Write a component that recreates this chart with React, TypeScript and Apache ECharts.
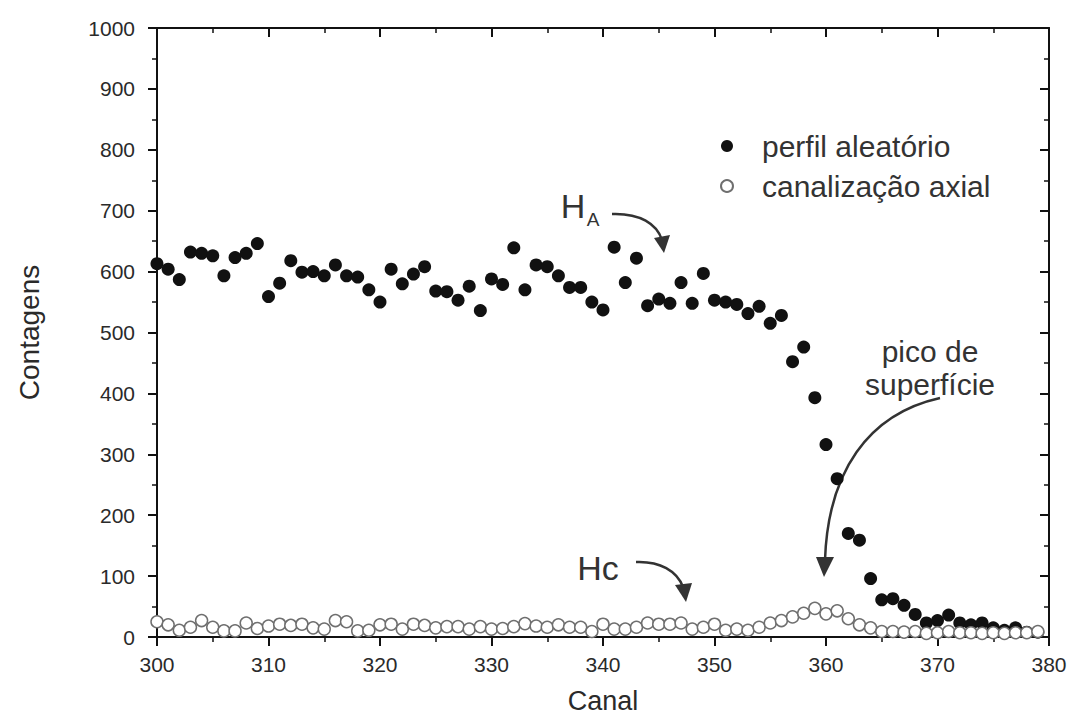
import React, { useEffect, useRef } from "react";
import * as echarts from "echarts";

const channels = [
  300, 301, 302, 303, 304, 305, 306, 307, 308, 309,
  310, 311, 312, 313, 314, 315, 316, 317, 318, 319,
  320, 321, 322, 323, 324, 325, 326, 327, 328, 329,
  330, 331, 332, 333, 334, 335, 336, 337, 338, 339,
  340, 341, 342, 343, 344, 345, 346, 347, 348, 349,
  350, 351, 352, 353, 354, 355, 356, 357, 358, 359,
  360, 361, 362, 363, 364, 365, 366, 367, 368, 369,
  370, 371, 372, 373, 374, 375, 376, 377, 378, 379,
];

const perfilAleatorio = [
  613, 604, 587, 632, 630, 626, 593, 623, 630, 646,
  559, 581, 618, 599, 600, 593, 611, 593, 591, 570,
  550, 604, 580, 596, 608, 568, 567, 553, 576, 536,
  588, 579, 639, 570, 611, 608, 593, 574, 574, 550,
  537, 640, 582, 622, 544, 555, 548, 582, 548, 597,
  553, 550, 546, 531, 543, 515, 528, 452, 476, 393,
  316, 260, 170, 159, 96, 61, 63, 52, 37, 23,
  27, 36, 23, 20, 23, 15, 11, 15, 8, 8,
];

const canalizacaoAxial = [
  25, 20, 11, 16, 27, 16, 10, 10, 23, 14,
  18, 21, 19, 21, 15, 13, 27, 25, 10, 11,
  20, 21, 13, 21, 19, 15, 17, 17, 13, 17,
  13, 14, 17, 22, 18, 16, 20, 16, 16, 9,
  21, 13, 13, 16, 23, 21, 21, 23, 13, 16,
  21, 11, 13, 11, 16, 23, 27, 33, 39, 47,
  38, 43, 30, 20, 15, 9, 9, 8, 9, 6,
  7, 9, 7, 7, 6, 7, 6, 7, 7, 9,
];

const seriesNames = ["perfil aleatório", "canalização axial"];
const xTicks = { min: 300, max: 380, interval: 10 };
const yTicks = { min: 0, max: 1000, interval: 100 };

const FONT = "'Liberation Sans', Arial, Helvetica, sans-serif";
const TXT = "#2a2a2a";

export default function App() {
  const ref = useRef<HTMLDivElement>(null);

  useEffect(() => {
    if (!ref.current) return;
    const chart = echarts.init(ref.current, undefined, { renderer: "svg" });

    const axisLine = { show: true, onZero: false, lineStyle: { color: "#111", width: 2 } };
    const tickStyle = { color: "#111", width: 2 };
    const minorTick = { show: true, splitNumber: 2, length: 5, lineStyle: { color: "#111", width: 1.5 } };

    const baseX = {
      type: "value" as const,
      min: xTicks.min,
      max: xTicks.max,
      interval: xTicks.interval,
      splitLine: { show: false },
      axisLine,
      minorTick,
    };
    const baseY = {
      type: "value" as const,
      min: yTicks.min,
      max: yTicks.max,
      interval: yTicks.interval,
      splitLine: { show: false },
      axisLine,
      minorTick,
    };

    const arrowStyle = { stroke: "#333", lineWidth: 2.5, fill: null };
    const headStyle = { fill: "#333" };
    const txt = (text: string, x: number, y: number, size: number) => ({
      type: "text",
      x,
      y,
      style: {
        text,
        font: `${size}px ${FONT}`,
        fill: "#333",
        textAlign: "center",
        textVerticalAlign: "middle",
        align: "center",
        verticalAlign: "middle",
      },
    });

    chart.setOption({
      animation: false,
      backgroundColor: "#fff",
      grid: { left: 157, right: 23, top: 28, bottom: 80, containLabel: false, outerBoundsMode: "none" },
      legend: {
        show: true,
        orient: "vertical",
        left: 715,
        top: 126,
        itemWidth: 12,
        itemHeight: 12,
        itemGap: 10,
        data: seriesNames,
        textStyle: { fontSize: 30, lineHeight: 30, color: "#333", fontFamily: FONT, padding: [0, 0, 0, 24] },
      },
      xAxis: [
        {
          ...baseX,
          position: "bottom",
          name: "Canal",
          nameLocation: "middle",
          nameGap: 50,
          nameTextStyle: { fontSize: 27, lineHeight: 27, color: TXT, fontFamily: FONT },
          axisTick: { show: true, inside: false, length: 9, lineStyle: tickStyle },
          axisLabel: { fontSize: 21, color: TXT, fontFamily: FONT, margin: 17, formatter: (v: number) => String(v) },
        },
        {
          ...baseX,
          position: "top",
          axisTick: { show: true, inside: true, length: 9, lineStyle: tickStyle },
          axisLabel: { show: false },
        },
      ],
      yAxis: [
        {
          ...baseY,
          position: "left",
          name: "Contagens",
          nameLocation: "middle",
          nameGap: 114,
          nameRotate: 90,
          nameTextStyle: { fontSize: 28, color: TXT, fontFamily: FONT },
          axisTick: { show: true, inside: false, length: 9, lineStyle: tickStyle },
          axisLabel: { fontSize: 21, color: TXT, fontFamily: FONT, margin: 22, formatter: (v: number) => String(v) },
        },
        {
          ...baseY,
          position: "right",
          axisTick: { show: true, inside: true, length: 9, lineStyle: tickStyle },
          axisLabel: { show: false },
        },
      ],
      series: [
        {
          name: seriesNames[0],
          type: "scatter",
          xAxisIndex: 0,
          yAxisIndex: 0,
          symbol: "circle",
          symbolSize: 13,
          itemStyle: { color: "#111", opacity: 1 },
          data: channels.map((c, i) => [c, perfilAleatorio[i]]),
          z: 3,
        },
        {
          name: seriesNames[1],
          type: "scatter",
          xAxisIndex: 0,
          yAxisIndex: 0,
          symbol: "circle",
          symbolSize: 12,
          itemStyle: { color: "#fff", borderColor: "#6f6f6f", borderWidth: 1.5, opacity: 1 },
          data: channels.map((c, i) => [c, canalizacaoAxial[i]]),
          z: 4,
        },
      ],
      graphic: [
        txt("H", 573, 206, 34),
        txt("A", 593, 219, 19),
        {
          type: "bezierCurve",
          shape: { x1: 612, y1: 214, cpx1: 640, cpy1: 213, cpx2: 657, cpy2: 224, x2: 662, y2: 240 },
          style: arrowStyle,
        },
        { type: "polygon", shape: { points: [[654, 238], [670, 235], [664, 253]] }, style: headStyle },
        txt("Hc", 598, 568, 34),
        {
          type: "bezierCurve",
          shape: { x1: 636, y1: 562, cpx1: 660, cpy1: 561, cpx2: 677, cpy2: 571, x2: 683, y2: 587 },
          style: arrowStyle,
        },
        { type: "polygon", shape: { points: [[675, 585], [692, 583], [686, 602]] }, style: headStyle },
        txt("pico de", 930, 351, 30),
        txt("superfície", 930, 384, 30),
        {
          type: "bezierCurve",
          shape: { x1: 940, y1: 398, cpx1: 868, cpy1: 414, cpx2: 828, cpy2: 472, x2: 825, y2: 560 },
          style: arrowStyle,
        },
        { type: "polygon", shape: { points: [[816, 557], [834, 557], [824, 577]] }, style: headStyle },
      ],
    });

    return () => chart.dispose();
  }, []);

  return (
    <div
      ref={ref}
      style={{ position: "fixed", left: 0, top: 0, width: 1072, height: 717, background: "#fff" }}
    />
  );
}
